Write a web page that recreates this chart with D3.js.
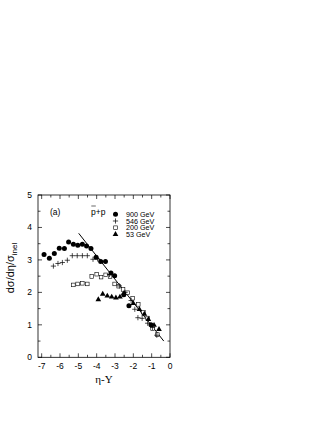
<!DOCTYPE html>
<html>
<head>
<meta charset="utf-8">
<script src="https://cdn.jsdelivr.net/npm/d3@7"></script>
<style>
  body { margin: 0; background: #fff; }
  text { font-family: "Liberation Sans", Arial, sans-serif; fill: #000; }
</style>
</head>
<body>
<svg width="327" height="423"></svg>
<script>
// data: [eta - Y, dsigma/deta/sigma_inel]
var gev900 = [[-6.87,3.17],[-6.58,3.05],[-6.31,3.20],[-6.04,3.36],[-5.76,3.35],[-5.53,3.55],
  [-5.27,3.48],[-5.03,3.45],[-4.78,3.48],[-4.55,3.43],[-4.31,3.35],[-4.03,3.08],[-3.78,2.95],
  [-3.52,2.95],[-3.22,2.60],[-3.02,2.51],[-2.52,1.93],[-2.24,1.59],[-1.04,1.00]];
var gev546 = [[-6.36,2.81],[-6.11,2.89],[-5.87,2.92],[-5.6,2.99],[-5.33,3.13],[-5.06,3.13],
  [-4.78,3.13],[-4.51,3.13],[-4.2,3.02],[-3.95,3.03],[-3.3,2.55],[-2.76,2.20],[-2.45,2.0],
  [-2.12,1.75],[-1.92,1.48],[-1.75,1.22],[-1.52,1.20],[-1.22,1.05],[-0.95,0.92],[-0.72,0.68]];
var gev200 = [[-5.27,2.23],[-5.04,2.26],[-4.78,2.28],[-4.51,2.26],[-4.27,2.49],[-4.0,2.56],
  [-3.76,2.47],[-3.51,2.54],[-3.27,2.49],[-3.02,2.26],[-2.80,2.19],[-2.56,2.09],[-2.31,1.99],
  [-2.04,1.82],[-1.73,1.63],[-1.45,1.39],[-1.22,1.21],[-0.95,0.88],[-0.69,0.70]];
var gev53 = [[-3.91,1.78],[-3.67,1.95],[-3.42,1.89],[-3.18,1.86],[-2.95,1.83],[-2.73,1.86],
  [-2.51,1.97],[-2.0,1.66],[-1.67,1.48],[-1.40,1.33],[-1.18,1.17],[-0.87,0.99],[-0.6,0.86]];
var fitLine = [[-4.98,3.82],[-0.34,0.50]];
var xTicks = [-7,-6,-5,-4,-3,-2,-1,0];
var yTicks = [0,1,2,3,4,5];
var legendNames = ["900 GeV","546 GeV","200 GeV","53 GeV"];

var svg = d3.select("svg");
var pLeft = 38, pRight = 170, pTop = 195, pBottom = 357.3;

var x = d3.scaleLinear().domain([-7.2, 0]).range([pLeft, pRight]);
var y = d3.scaleLinear().domain([0, 5]).range([pBottom, pTop]);

// frame
svg.append("rect")
  .attr("x", pLeft).attr("y", pTop)
  .attr("width", pRight - pLeft).attr("height", pBottom - pTop)
  .attr("fill", "none").attr("stroke", "#000").attr("stroke-width", 0.8);

// inward ticks on all four sides
var xMinor = d3.range(-7, 0.01, 0.5);
var yMinor = d3.range(0, 5.01, 0.5);
var tk = svg.append("g").attr("stroke", "#000").attr("stroke-width", 0.7);
xMinor.forEach(function(v) {
  var len = Number.isInteger(v) ? 4 : 2.5;
  tk.append("line").attr("x1", x(v)).attr("x2", x(v)).attr("y1", pBottom).attr("y2", pBottom - len);
  tk.append("line").attr("x1", x(v)).attr("x2", x(v)).attr("y1", pTop).attr("y2", pTop + len);
});
yMinor.forEach(function(v) {
  var len = Number.isInteger(v) ? 4 : 2.5;
  tk.append("line").attr("y1", y(v)).attr("y2", y(v)).attr("x1", pLeft).attr("x2", pLeft + len);
  tk.append("line").attr("y1", y(v)).attr("y2", y(v)).attr("x1", pRight).attr("x2", pRight - len);
});

svg.append("g").selectAll("text").data(xTicks).enter().append("text")
  .attr("x", function(d) { return x(d); })
  .attr("y", pBottom + 12)
  .attr("text-anchor", "middle")
  .style("font-size", "8.5px")
  .text(function(d) { return d; });

svg.append("g").selectAll("text").data(yTicks).enter().append("text")
  .attr("x", pLeft - 6)
  .attr("y", function(d) { return y(d) + 3; })
  .attr("text-anchor", "end")
  .style("font-size", "8.5px")
  .text(function(d) { return d; });

// axis titles
svg.append("text")
  .attr("x", 104).attr("y", 383)
  .attr("text-anchor", "middle")
  .style("font-family", "'Liberation Serif', 'Times New Roman', serif")
  .style("font-size", "11px")
  .text("η-Y");

var yl = svg.append("text")
  .attr("transform", "translate(14,268) rotate(-90)")
  .attr("text-anchor", "middle")
  .style("font-size", "11px");
yl.append("tspan").text("dσ/dη/σ");
yl.append("tspan").attr("dy", 3).style("font-size", "8px").text("inel");

// fit line
svg.append("line")
  .attr("x1", x(fitLine[0][0])).attr("y1", y(fitLine[0][1]))
  .attr("x2", x(fitLine[1][0])).attr("y2", y(fitLine[1][1]))
  .attr("stroke", "#000").attr("stroke-width", 1);

// markers
function circles(g, data) {
  g.selectAll("circle").data(data).enter().append("circle")
    .attr("cx", function(d) { return x(d[0]); })
    .attr("cy", function(d) { return y(d[1]); })
    .attr("r", 2.5).attr("fill", "#000");
}
function pluses(g, data) {
  g.selectAll("path").data(data).enter().append("path")
    .attr("d", function(d) {
      var cx = x(d[0]), cy = y(d[1]);
      return "M" + (cx - 2.6) + "," + cy + "h5.2M" + cx + "," + (cy - 2.6) + "v5.2";
    })
    .attr("stroke", "#000").attr("stroke-width", 0.7).attr("fill", "none");
}
function squares(g, data) {
  g.selectAll("rect").data(data).enter().append("rect")
    .attr("x", function(d) { return x(d[0]) - 1.8; })
    .attr("y", function(d) { return y(d[1]) - 1.8; })
    .attr("width", 3.6).attr("height", 3.6)
    .attr("fill", "#fff").attr("stroke", "#000").attr("stroke-width", 0.6);
}
function triangles(g, data) {
  g.selectAll("path").data(data).enter().append("path")
    .attr("transform", function(d) { return "translate(" + x(d[0]) + "," + y(d[1]) + ")"; })
    .attr("d", d3.symbol().type(d3.symbolTriangle).size(14))
    .attr("fill", "#000");
}

squares(svg.append("g"), gev200);
pluses(svg.append("g"), gev546);
triangles(svg.append("g"), gev53);
circles(svg.append("g"), gev900);

// legend
svg.append("text").attr("x", 50).attr("y", 214.5).style("font-size", "8.5px").text("(a)");
svg.append("text").attr("x", 91).attr("y", 214.5).style("font-size", "8.5px").text("p+p");
svg.append("line").attr("x1", 91.3).attr("x2", 95.8).attr("y1", 206).attr("y2", 206)
  .attr("stroke", "#000").attr("stroke-width", 0.6);

var lx = 115.5, ly = [214.3, 221, 227.7, 234.3];
var lg = svg.append("g");
lg.append("circle").attr("cx", lx).attr("cy", ly[0]).attr("r", 2.5).attr("fill", "#000");
pluses(lg.append("g"), [[x.invert(lx), y.invert(ly[1])]]);
squares(lg.append("g"), [[x.invert(lx), y.invert(ly[2])]]);
triangles(lg.append("g"), [[x.invert(lx), y.invert(ly[3])]]);
lg.selectAll("text.l").data(legendNames).enter().append("text")
  .attr("class", "l")
  .attr("x", 126)
  .attr("y", function(d, i) { return ly[i] + 2.6; })
  .style("font-size", "7.2px")
  .text(function(d) { return d; });
</script>
</body>
</html>
